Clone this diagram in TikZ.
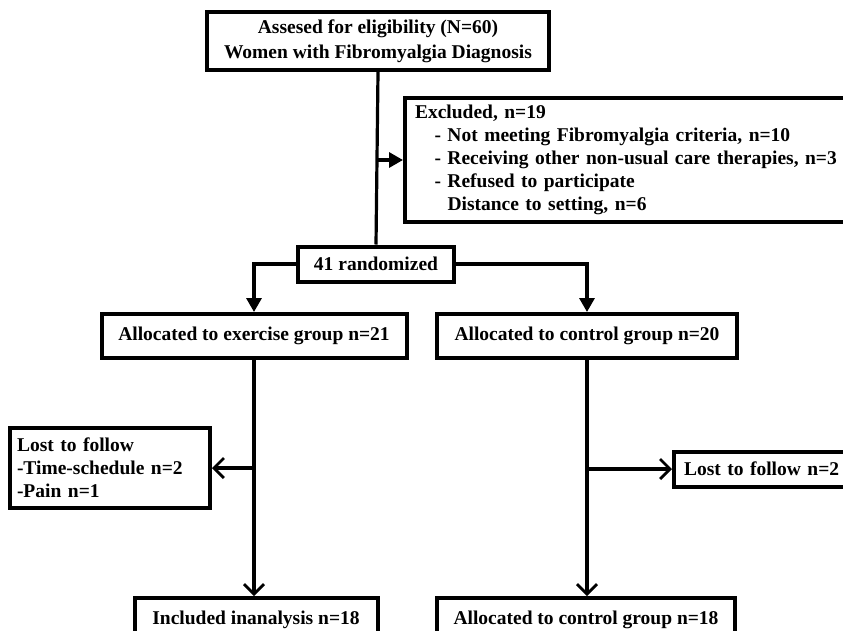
\documentclass[tikz,border=0pt]{standalone}
\usepackage{fontspec}
\setmainfont{Liberation Serif}
\usepackage{tikz}
\usetikzlibrary{arrows.meta,shapes}

\begin{document}
\begin{tikzpicture}[x=1pt,y=-1pt,
		box/.style={draw,line width=4pt,inner sep=0pt,font=\fontsize{19.5}{23}\selectfont\bfseries},
		link/.style={line width=3.2pt},
		fillarrow/.style={link,-{Triangle[length=14pt,width=15pt]}},
		openarrow/.style={link,-{Straight Barb[length=10pt,width=20pt,line width=2.8pt]}}]
					\useasboundingbox (0,0) rectangle (843,630);
					% First we draw the boxes
					\node[box,minimum width=342pt,minimum height=58pt,align=center] (top) at (378,41)
						{Assesed for eligibility (N=60)\\[2pt]Women with Fibromyalgia Diagnosis};
					\node[box,anchor=west,minimum width=445pt,minimum height=124pt,text width=425pt,align=left] (excl) at (403,160)
						{Excluded, n=19\\
						\ \ \ - Not meeting Fibromyalgia criteria, n=10\\
						\ \ \ - Receiving other non-usual care therapies, n=3\\
						\ \ \ - Refused to participate\\
						\ \ \ \ \ Distance to setting, n=6};
					\node[box,minimum width=156pt,minimum height=35pt] (rand) at (376,264) {41 randomized};
					\node[box,minimum width=305pt,minimum height=44pt] (exer) at (254,336) {Allocated to exercise group n=21};
					\node[box,minimum width=300pt,minimum height=44pt] (ctrl) at (587,336) {Allocated to control group n=20};
					\node[box,minimum width=200pt,minimum height=80pt,text width=186pt,align=left] (lostL) at (110,468)
						{Lost to follow\\-Time-schedule n=2\\-Pain n=1};
					\node[box,anchor=west,minimum width=190pt,minimum height=35pt,text width=170pt,align=left] (lostR) at (672,469)
						{Lost to follow n=2};
					\node[box,minimum width=243pt,minimum height=44pt] (incl) at (256,620) {Included inanalysis n=18};
					\node[box,minimum width=298pt,minimum height=44pt] (ctrlb) at (586,620) {Allocated to control group n=18};
					% Then the connectors
					\draw[link] (top.south) -- (rand.north);
					\draw[fillarrow] (top.south |- excl.west) -- (excl.west);
					\foreach \source/\dest in {west/exer, east/ctrl}
						\draw[fillarrow] (rand.\source) -| (\dest.north);
					\draw[openarrow] (exer.south) -- (exer.south |- incl.north);
					\draw[openarrow] (ctrl.south) -- (ctrl.south |- ctrlb.north);
					\draw[openarrow] (exer.south |- lostL.east) -- (lostL.east);
					\draw[openarrow] (ctrl.south |- lostR.west) -- (lostR.west);
				\end{tikzpicture}
\end{document}
